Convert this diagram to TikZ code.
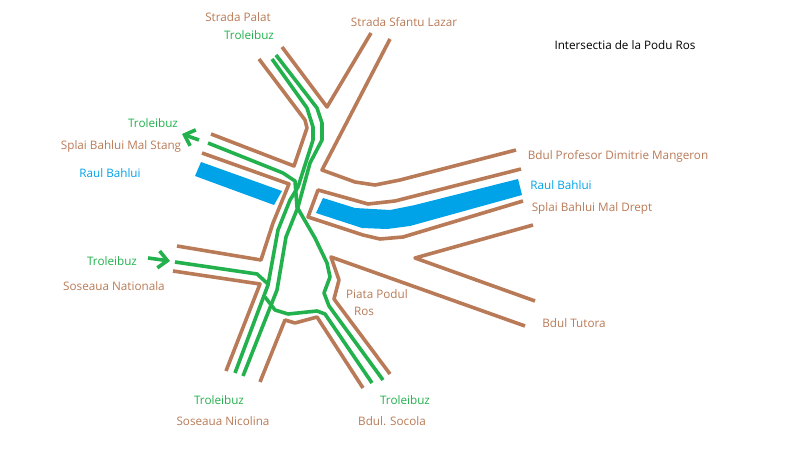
\documentclass[tikz,border=0pt]{standalone}
\usepackage{fontspec}
\setmainfont{Open Sans}
\usetikzlibrary{arrows.meta}
\definecolor{roadbrown}{HTML}{B97A57}
\definecolor{tramgreen}{HTML}{22B14C}
\definecolor{riverblue}{HTML}{00A2E8}
\tikzset{every picture/.style={
  >={Straight Barb[length=9pt,width=17pt]}
  }
}

\begin{document}
\begin{tikzpicture}[
      x=1pt,
      y=-1pt,
      road/.style={draw=roadbrown,line width=3.6pt,line join=round},
      tram/.style={draw=tramgreen,line width=3.6pt,line join=round},
      river/.style={fill=riverblue},
      lbl/.style={font=\fontsize{11.7pt}{13pt}\selectfont,inner sep=0pt,text=#1}
      ]
      \useasboundingbox (0,0) rectangle (800,457);

      % Draw the two stretches of water.
      \fill[river] (201,162) -- (282,191) -- (274,205) -- (195,176) -- cycle;
      \fill[river] (323,198) -- (355,208) -- (390,210) -- (415,205) -- (518,179) -- (522,195)
        -- (410,226) -- (387,229) -- (362,228) -- (316,213) -- cycle;

      % Draw the road edges.
      \draw[road] (259,59) -- (305,120) -- (307,128) -- (294,166) -- (211,134);
      \draw[road] (282,47) -- (327,107) -- (371,33);
      \draw[road] (390,39) -- (322,170) -- (355,182) -- (375,185) -- (400,180) -- (516,150);
      \draw[road] (202,153) -- (289,184) -- (273,223) -- (261,260) -- (177,246);
      \draw[road] (521,169) -- (395,201) -- (368,204) -- (318,190) -- (308,217)
        -- (363,235) -- (380,239) -- (403,237) -- (523,201);
      \draw[road] (173,271) -- (260,284) -- (226,371);
      \draw[road] (260,382) -- (285,320) -- (295,323) -- (317,317) -- (363,388);
      \draw[road] (390,374) -- (334,299) -- (339,280) -- (331,257) -- (525,326);
      \draw[road] (533,225) -- (415,258) -- (535,301);

      % Draw the trolleybus wires.
      \draw[tram] (272,59) -- (307,108) -- (313,127) -- (313,140) -- (298,187)
        -- (290,200) -- (278,230) -- (268,285) -- (235,373);
      \draw[tram] (276,55) -- (317,108) -- (322,123) -- (322,140) -- (310,163)
        -- (298,207) -- (286,237) -- (277,290) -- (243,376);
      \draw[tram] (208,143) -- (283,173) -- (295,181) -- (297,207) -- (315,238)
        -- (327,263) -- (330,277) -- (324,293) -- (329,306) -- (383,380);
      \draw[tram] (265,297) -- (275,310) -- (288,314) -- (317,311) -- (325,314) -- (372,383);
      \draw[tram] (175,262) -- (257,274) -- (268,284);

      % Draw the two direction arrows.
      \coordinate (outstart) at (199,140);
      \coordinate (outend) at (182,134);
      \coordinate (instart) at (148,258);
      \coordinate (inend) at (170,261);
      \draw[tram,->] (outstart) -- (outend);
      \draw[tram,->] (instart) -- (inend);

      % Render the labels.
      \node[lbl=black] (title) at (625,45) {Intersectia de la Podu Ros};
      \node[lbl=roadbrown] (palat) at (238,17) {Strada Palat};
      \node[lbl=tramgreen] (tropalat) at (249,35) {Troleibuz};
      \node[lbl=roadbrown] (lazar) at (404,22) {Strada Sfantu Lazar};
      \node[lbl=tramgreen] (trostang) at (153,123) {Troleibuz};
      \node[lbl=roadbrown] (stang) at (121,146) {Splai Bahlui Mal Stang};
      \node[lbl=riverblue] (raulstang) at (110,173) {Raul Bahlui};
      \node[lbl=roadbrown] (mangeron) at (618,156) {Bdul Profesor Dimitrie Mangeron};
      \node[lbl=riverblue] (rauldrept) at (561,185) {Raul Bahlui};
      \node[lbl=roadbrown] (drept) at (592,208) {Splai Bahlui Mal Drept};
      \node[lbl=tramgreen] (tronat) at (112,261) {Troleibuz};
      \node[lbl=roadbrown] (nationala) at (114,286) {Soseaua Nationala};
      \node[lbl=roadbrown] (piata) at (377,294) {Piata Podul};
      \node[lbl=roadbrown] (ros) at (364,311) {Ros};
      \node[lbl=roadbrown] (tutora) at (574,323) {Bdul Tutora};
      \node[lbl=tramgreen] (tronic) at (219,400) {Troleibuz};
      \node[lbl=roadbrown] (nicolina) at (223,421) {Soseaua Nicolina};
      \node[lbl=tramgreen] (trosoc) at (405,400) {Troleibuz};
      \node[lbl=roadbrown] (socola) at (392,421) {Bdul. Socola};

    \end{tikzpicture}
\end{document}
